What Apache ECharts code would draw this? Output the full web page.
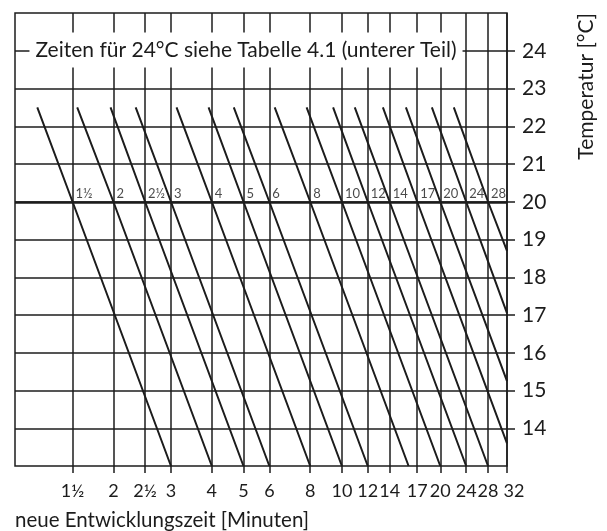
<!DOCTYPE html>
<html>
<head>
<meta charset="utf-8">
<script src="https://cdn.jsdelivr.net/npm/echarts@6/dist/echarts.min.js"></script>
<style>
  html, body { margin: 0; padding: 0; background: #fff; }
  #chart { width: 607px; height: 531px; }
</style>
</head>
<body>
<div id="chart"></div>
<script>
// Zeit bei 20 °C (Beschriftung an der 20-Grad-Linie)
const times20 = [1.5, 2, 2.5, 3, 4, 5, 6, 8, 10, 12, 14, 17, 20, 24, 28];
const labels20 = ['1½', '2', '2½', '3', '4', '5', '6', '8', '10', '12', '14', '17', '20', '24', '28'];
// oberes Ende der Geraden (bei 22,5 °C)
const topTemp = 22.5;
const topTimes = [1.17, 1.55, 1.96, 2.34, 3.12, 3.91, 4.67, 6.23, 7.8, 9.4, 10.95, 13.35, 15.7, 18.85, 22.0];
// unteres Ende: Zeit und Temperatur (rechter Rand bei 32 min)
const endTimes = [3, 4, 5, 6, 8, 10, 12, 16, 20, 24, 28, 32, 32, 32, 32];
const endTemps = [13, 13, 13, 13, 13, 13, 13, 13, 13, 13, 13, 13.6, 15.25, 17.05, 18.7];

// Achsen
const xTicks = [1.5, 2, 2.5, 3, 4, 5, 6, 8, 10, 12, 14, 17, 20, 24, 28, 32];
const xTickLabels = ['1½', '2', '2½', '3', '4', '5', '6', '8', '10', '12', '14', '17', '20', '24', '28', '32'];
const yTicks = [14, 15, 16, 17, 18, 19, 20, 21, 22, 23, 24];

const ink = '#1c1c1c';
const font = 'Lato';

const chart = echarts.init(document.getElementById('chart'));

function xLabel(v) {
  let best = 0;
  xTicks.forEach((t, i) => {
    if (Math.abs(t - v) < Math.abs(xTicks[best] - v)) best = i;
  });
  return xTickLabels[best];
}

const series = times20.map((t, i) => ({
  type: 'line',
  silent: true,
  symbol: 'none',
  lineStyle: { color: ink, width: 2 },
  data: [[topTimes[i], topTemp], [t, 20], [endTimes[i], endTemps[i]]]
}));

// 20-Grad-Linie kraeftiger
series.push({
  type: 'line',
  silent: true,
  data: [],
  markLine: {
    silent: true,
    symbol: 'none',
    label: { show: false },
    lineStyle: { color: ink, width: 2.5, type: 'solid' },
    data: [{ yAxis: 20 }]
  }
});

// Beschriftung an der 20-Grad-Linie
series.push({
  type: 'scatter',
  silent: true,
  symbolSize: 0,
  data: times20.map((t, i) => ({ value: [t, 20], name: labels20[i] })),
  label: {
    show: true,
    position: 'right',
    distance: 3,
    offset: [0, -8],
    formatter: p => p.name,
    color: ink,
    fontFamily: font,
    fontSize: 13
  }
});

const lastTick = xTicks[xTicks.length - 1];
const xBase = {
  type: 'log',
  logBase: 2,
  min: 1,
  max: 32,
  gridIndex: 0,
  position: 'bottom',
  axisLine: { show: false }
};

const option = {
  animation: false,
  grid: {
    left: 15, right: 100, top: 13, bottom: 65,
    show: true, borderColor: ink, borderWidth: 1.5
  },
  xAxis: [
    Object.assign({}, xBase, {
      axisTick: { customValues: xTicks, length: 7, lineStyle: { color: ink, width: 1.5 } },
      axisLabel: {
        customValues: xTicks.slice(0, -1),
        formatter: v => xLabel(v),
        showMinLabel: true,
        hideOverlap: false,
        color: ink, fontFamily: font, fontSize: 18, margin: 16
      },
      splitLine: { show: true, lineStyle: { color: ink, width: 1.5 } }
    }),
    // letzte Beschriftung (32) separat, leicht nach rechts versetzt
    Object.assign({}, xBase, {
      axisTick: { show: false },
      splitLine: { show: false },
      axisLabel: {
        customValues: [lastTick],
        formatter: v => xLabel(v),
        showMaxLabel: true,
        color: ink, fontFamily: font, fontSize: 18, margin: 16,
        padding: [0, 0, 0, 14]
      }
    })
  ],
  yAxis: {
    type: 'value',
    position: 'right',
    min: 13,
    max: 25,
    interval: 1,
    axisLine: { show: false },
    axisTick: { customValues: yTicks, length: 8, lineStyle: { color: ink, width: 1.5 } },
    axisLabel: {
      customValues: yTicks,
      color: ink, fontFamily: font, fontSize: 21, margin: 15
    },
    splitLine: { show: true, lineStyle: { color: ink, width: 1.5 } }
  },
  graphic: [
    {
      type: 'text',
      z: 100,
      x: 246,
      y: 50,
      style: {
        text: 'Zeiten für 24°C siehe Tabelle 4.1 (unterer Teil)',
        align: 'center',
        verticalAlign: 'middle',
        fill: ink,
        font: '21px ' + font,
        backgroundColor: '#fff',
        padding: [7, 6]
      }
    },
    {
      type: 'text',
      x: 586,
      y: 13,
      rotation: Math.PI / 2,
      style: {
        text: 'Temperatur [°C]',
        align: 'right',
        verticalAlign: 'middle',
        fill: ink,
        font: '21px ' + font
      }
    },
    {
      type: 'text',
      x: 15,
      y: 520,
      style: {
        text: 'neue Entwicklungszeit [Minuten]',
        align: 'left',
        verticalAlign: 'middle',
        fill: ink,
        font: '20.5px ' + font
      }
    }
  ],
  series: series
};

chart.setOption(option);
</script>
</body>
</html>
